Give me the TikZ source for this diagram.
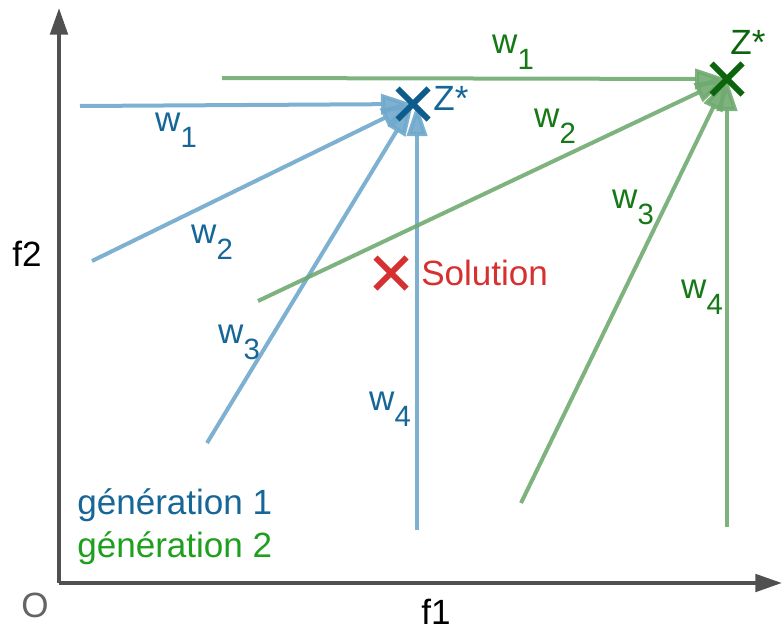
\documentclass[tikz,border=0pt]{standalone}
\usepackage{fontspec}
\setmainfont{Liberation Sans}
\usetikzlibrary{arrows.meta}
\definecolor{axisgray}{RGB}{80,80,80}
\definecolor{ogray}{RGB}{100,100,100}
\definecolor{lineblue}{RGB}{112,168,204}
\definecolor{crossblue}{RGB}{14,92,140}
\definecolor{textblue}{RGB}{22,102,152}
\definecolor{linegreen}{RGB}{112,170,112}
\definecolor{crossgreen}{RGB}{12,100,12}
\definecolor{textgreen}{RGB}{22,120,22}
\definecolor{legendgreen}{RGB}{30,160,30}
\definecolor{solred}{RGB}{214,48,48}
\newcommand{\wlab}[1]{w\raisebox{-0.45em}{\fontsize{22}{22}\selectfont #1}}
\newcommand{\crossat}[2]{\draw[line width=4.4pt,#2] ($(#1)+(-15.5,-15.5)$) -- ($(#1)+(15.5,15.5)$) ($(#1)+(-15.5,15.5)$) -- ($(#1)+(15.5,-15.5)$);}
\usetikzlibrary{calc}

\begin{document}
\begin{tikzpicture}[x=0.75pt,y=-0.75pt,
  every node/.style={font=\fontsize{26.3}{31}\selectfont,inner sep=0pt},
  axis/.style={draw=axisgray,line width=3pt,-{Triangle[length=20pt,width=13pt]}},
  blueray/.style={draw=lineblue,line width=3pt,opacity=0.9,-{Triangle[length=24pt,width=15pt]}},
  greenray/.style={draw=linegreen,line width=3pt,opacity=0.9,-{Triangle[length=24pt,width=15pt]}}]
  \useasboundingbox (0,0) rectangle (782,632);
  % axes
  \coordinate (o) at (59,583);
  \coordinate (xend) at (782,583);
  \coordinate (yend) at (59,8);
  \draw[axis] (o) -- (xend);
  \draw[axis] (o) -- (yend);
  \node[text=ogray] (olab) at (35,605) {O};
  \node (f1) at (436,612) {f1};
  \node (f2) at (27,254) {f2};
  % generation 1
  \coordinate (zb) at (413,104);
  \coordinate (b1) at (80,106);
  \coordinate (b2) at (92,261);
  \coordinate (b3) at (207,443);
  \coordinate (b4) at (417,530);
  \coordinate (zbv) at (417,104);
  \draw[blueray] (b1) -- (zb);
  \draw[blueray] (b2) -- (zb);
  \draw[blueray] (b3) -- (zb);
  \draw[blueray] (b4) -- (zbv);
  % generation 2
  \coordinate (zg) at (727,79);
  \coordinate (g1) at (222,78);
  \coordinate (g2) at (258,301);
  \coordinate (g3) at (521,503);
  \coordinate (g4) at (727,527);
  \draw[greenray] (g1) -- (zg);
  \draw[greenray] (g2) -- (zg);
  \draw[greenray] (g3) -- (zg);
  \draw[greenray] (g4) -- (zg);
  % crosses
  \crossat{zb}{crossblue}
  \crossat{zg}{crossgreen}
  \coordinate (sol) at (391,273);
  \crossat{sol}{solred}
  \node[text=textblue] (zblab) at (451,98) {Z*};
  \node[text=crossgreen] (zglab) at (748,42) {Z*};
  \node[text=solred,anchor=west] (sollab) at (421,273) {Solution};
  % weights
  \node[text=textblue] (bw1) at (176,130) {\wlab{1}};
  \node[text=textblue] (bw2) at (212,242) {\wlab{2}};
  \node[text=textblue] (bw3) at (239,342) {\wlab{3}};
  \node[text=textblue] (bw4) at (390,409) {\wlab{4}};
  \node[text=textgreen] (gw1) at (513,52) {\wlab{1}};
  \node[text=textgreen] (gw2) at (555,126) {\wlab{2}};
  \node[text=textgreen] (gw3) at (633,207) {\wlab{3}};
  \node[text=textgreen] (gw4) at (702,297) {\wlab{4}};
  % legend
  \node[text=textblue,anchor=west] (gen1) at (77,505) {génération 1};
  \node[text=legendgreen,anchor=west] (gen2) at (77,548) {génération 2};
\end{tikzpicture}
\end{document}
